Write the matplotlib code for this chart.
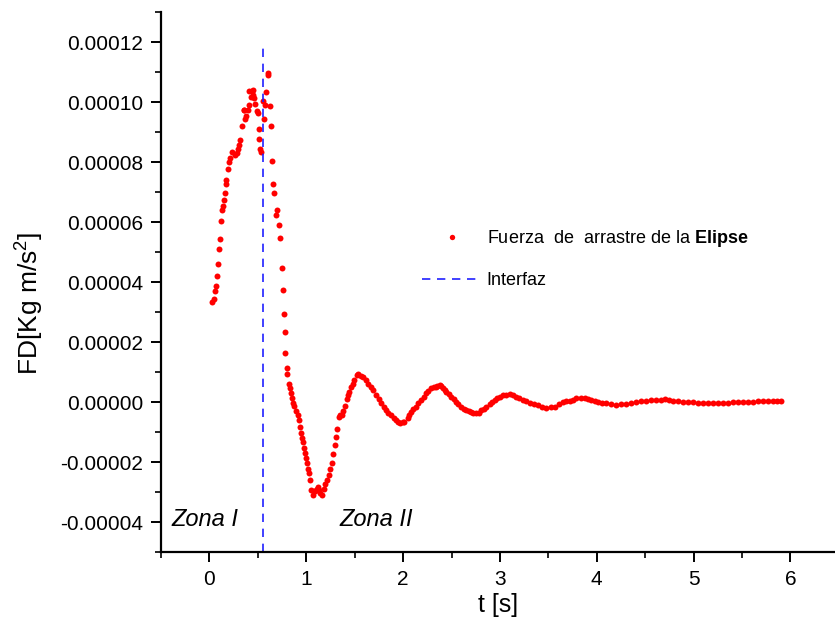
import numpy as np
import matplotlib
matplotlib.use("Agg")
import matplotlib.pyplot as plt
from matplotlib.ticker import MultipleLocator, FormatStrFormatter

plt.rcParams['font.family'] = ['Liberation Sans', 'DejaVu Sans']
plt.rcParams['mathtext.fontset'] = 'custom'
plt.rcParams['mathtext.rm'] = 'Liberation Sans'
plt.rcParams['mathtext.bf'] = 'Liberation Sans:bold'

# drag force samples (t in s, FD in units of 1e-6)
t_s = [
    0.028, 0.049, 0.059, 0.065, 0.080, 0.090, 0.103, 0.111, 0.121, 0.127,
    0.137, 0.148, 0.158, 0.168, 0.176, 0.189, 0.199, 0.214, 0.235, 0.269,
    0.282, 0.292, 0.303, 0.320, 0.338, 0.354, 0.362, 0.369, 0.375, 0.396,
    0.406, 0.406, 0.431, 0.437, 0.447, 0.447, 0.465, 0.472, 0.489, 0.503,
    0.509, 0.517, 0.527, 0.537, 0.551, 0.571, 0.568, 0.589, 0.604, 0.610,
    0.625, 0.635, 0.651, 0.658, 0.668, 0.689, 0.699, 0.716, 0.733, 0.747,
    0.757, 0.768, 0.777, 0.785, 0.799, 0.804, 0.819, 0.830, 0.840, 0.850,
    0.865, 0.878, 0.896, 0.916, 0.923, 0.933, 0.943, 0.958, 0.968, 0.978,
    0.989, 0.999, 1.009, 1.020, 1.030, 1.040, 1.054, 1.067, 1.080, 1.095,
    1.110, 1.123, 1.136, 1.147, 1.160, 1.181, 1.198, 1.216, 1.232, 1.250,
    1.263, 1.281, 1.294, 1.309, 1.322, 1.343, 1.353, 1.367, 1.384, 1.405,
    1.418, 1.433, 1.446, 1.460, 1.480, 1.498, 1.522, 1.539, 1.567, 1.591,
    1.617, 1.637, 1.670, 1.694, 1.722, 1.746, 1.774, 1.798, 1.825, 1.849,
    1.877, 1.901, 1.929, 1.947, 1.970, 1.994, 2.014, 2.049, 2.066, 2.084,
    2.107, 2.135, 2.159, 2.187, 2.211, 2.239, 2.262, 2.290, 2.314, 2.335,
    2.355, 2.376, 2.391, 2.410, 2.428, 2.445, 2.469, 2.497, 2.521, 2.549,
    2.572, 2.600, 2.624, 2.652, 2.676, 2.704, 2.727, 2.755, 2.779, 2.807,
    2.831, 2.858, 2.893, 2.918, 2.944, 2.970, 2.996, 3.030, 3.063, 3.099,
    3.135, 3.168, 3.202, 3.237, 3.272, 3.306, 3.347, 3.392, 3.435, 3.478,
    3.523, 3.564, 3.605, 3.650, 3.683, 3.719, 3.755, 3.788, 3.833, 3.874,
    3.910, 3.943, 3.977, 4.011, 4.055, 4.098, 4.148, 4.201, 4.251, 4.305,
    4.354, 4.408, 4.458, 4.511, 4.561, 4.615, 4.659, 4.700, 4.742, 4.786,
    4.835, 4.890, 4.938, 4.993, 5.041, 5.096, 5.145, 5.200, 5.248, 5.303,
    5.351, 5.406, 5.455, 5.509, 5.558, 5.613, 5.661, 5.716, 5.764, 5.819,
    5.863, 5.906,
]
fd_e6 = [
    33.3, 34.3, 37.0, 38.6, 41.9, 46.1, 51.1, 54.5, 60.4, 64.1,
    65.2, 67.5, 69.7, 72.7, 74.0, 77.8, 80.0, 81.3, 83.5, 82.3,
    82.9, 84.3, 85.8, 87.3, 91.9, 97.3, 97.3, 94.5, 95.4, 97.3,
    99.1, 103.7, 101.7, 103.7, 104.0, 102.2, 101.3, 99.3, 97.1, 96.3,
    91.1, 87.7, 84.3, 83.5, 100.2, 99.1, 94.4, 103.4, 109.7, 109.0,
    98.8, 91.9, 80.3, 72.6, 69.6, 62.4, 64.1, 59.1, 54.8, 44.6,
    37.2, 29.5, 23.4, 16.3, 11.5, 9.2, 6.0, 4.6, 2.9, 1.2,
    -0.2, -1.3, -2.9, -4.3, -6.0, -8.2, -10.4, -12.1, -13.2, -15.4,
    -16.9, -18.7, -20.2, -22.4, -23.7, -25.9, -29.3, -30.9, -29.6, -29.8,
    -28.9, -28.4, -29.3, -30.2, -30.9, -29.0, -27.3, -25.9, -24.3, -22.4,
    -20.4, -17.3, -14.3, -11.5, -9.1, -4.9, -4.2, -4.3, -2.9, -1.3,
    0.9, 2.3, 3.4, 5.1, 6.0, 7.3, 8.9, 9.2, 8.8, 8.2,
    7.5, 6.0, 5.1, 4.0, 2.3, 1.0, -0.4, -1.5, -2.7, -3.5,
    -4.3, -5.2, -6.0, -6.8, -7.1, -6.8, -6.5, -5.4, -4.3, -3.2,
    -2.3, -1.6, -0.3, 0.7, 1.8, 2.9, 3.8, 4.6, 5.0, 5.1,
    5.3, 5.7, 5.2, 4.6, 4.0, 3.4, 2.7, 1.8, 1.0, 0.1,
    -0.7, -1.6, -2.2, -2.7, -3.0, -3.2, -3.5, -3.8, -3.5, -2.7,
    -2.2, -1.6, -0.8, 0.0, 0.7, 1.2, 1.7, 2.3, 2.5, 2.6,
    2.2, 1.8, 1.2, 0.7, 0.2, -0.2, -0.6, -1.0, -1.5, -2.1,
    -1.8, -1.6, -0.7, 0.1, 0.3, 0.4, 0.8, 1.2, 1.2, 1.2,
    1.0, 0.7, 0.3, 0.1, -0.2, -0.4, -0.7, -1.0, -0.8, -0.7,
    -0.3, 0.1, 0.3, 0.4, 0.6, 0.7, 0.8, 1.0, 0.7, 0.4,
    0.3, 0.1, 0.0, -0.1, -0.2, -0.2, -0.3, -0.4, -0.3, -0.2,
    -0.2, -0.1, 0.0, 0.1, 0.1, 0.1, 0.2, 0.3, 0.3, 0.4,
    0.3, 0.3,
]
fd = np.array(fd_e6) * 1e-6

t_interface = 0.55
interface_top = 0.00012

fig = plt.figure(figsize=(8.35, 6.43), dpi=100)
ax = fig.add_axes([161 / 835, 91 / 643, 674 / 835, 540 / 643])

ax.plot(t_s, fd, linestyle='none', marker='o', markersize=4.3,
        markeredgewidth=0, color='#ff0000',
        label=r'Fuerza  de  arrastre de la $\mathbf{Elipse}$')
ax.plot([t_interface, t_interface], [-0.00005, interface_top], color='#2020ff',
        linewidth=1.2, dashes=(5, 4), label='Interfaz')

ax.set_xlim(-0.5, 6.46)
ax.set_ylim(-0.00005, 0.00013)

ax.spines['top'].set_visible(False)
ax.spines['right'].set_visible(False)
ax.spines['left'].set_linewidth(1.6)
ax.spines['bottom'].set_linewidth(1.6)

ax.xaxis.set_major_locator(MultipleLocator(1))
ax.xaxis.set_minor_locator(MultipleLocator(0.5))
ax.yaxis.set_major_locator(MultipleLocator(0.00002))
ax.yaxis.set_minor_locator(MultipleLocator(0.00001))
ax.yaxis.set_major_formatter(FormatStrFormatter('%.5f'))
ax.tick_params(which='major', direction='out', length=7, width=1.4, labelsize=15, pad=6)
ax.tick_params(which='minor', direction='out', length=4, width=1.2)

ax.set_xlabel('t [s]', fontsize=18, labelpad=3)
ax.set_ylabel(r'FD[Kg m/s$^2$]', fontsize=19)
ax.yaxis.set_label_coords(-0.172, 0.46)

ax.text(-0.39, -0.0000393, 'Zona I', fontsize=17, style='italic', va='center')
ax.text(1.34, -0.0000393, 'Zona II', fontsize=17, style='italic', va='center')

ax.legend(loc='upper left', bbox_to_anchor=(0.387, 0.60), frameon=False,
          fontsize=13, handlelength=3.3, handletextpad=0.3, labelspacing=1.3,
          borderpad=0, borderaxespad=0, markerscale=0.9)

fig.savefig('out.png', dpi=100)
